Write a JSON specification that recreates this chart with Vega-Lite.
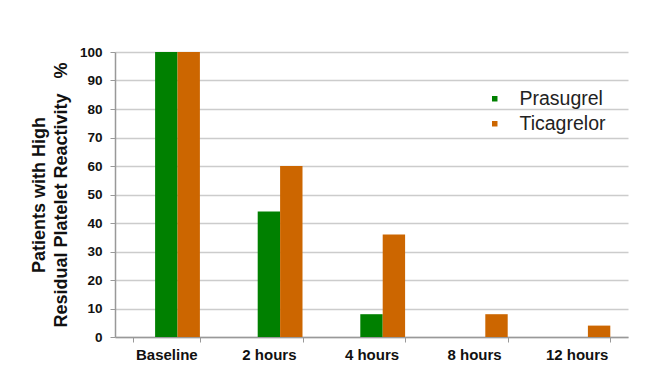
{
  "$schema": "https://vega.github.io/schema/vega-lite/v6.json",
  "autosize": "none",
  "width": 513,
  "height": 285,
  "padding": {"left": 115, "top": 52, "right": 26, "bottom": 40},
  "background": "white",
  "config": {
    "font": "Liberation Sans",
    "view": {"stroke": null},
    "axis": {
      "domainColor": "#999999",
      "tickColor": "#999999",
      "labelColor": "#111111",
      "titleColor": "#111111"
    }
  },
  "data": {
    "values": [
      {"time": "Baseline", "drug": "Prasugrel", "pct": 100},
      {"time": "Baseline", "drug": "Ticagrelor", "pct": 100},
      {"time": "2 hours", "drug": "Prasugrel", "pct": 44},
      {"time": "2 hours", "drug": "Ticagrelor", "pct": 60},
      {"time": "4 hours", "drug": "Prasugrel", "pct": 8},
      {"time": "4 hours", "drug": "Ticagrelor", "pct": 36},
      {"time": "8 hours", "drug": "Prasugrel", "pct": 0},
      {"time": "8 hours", "drug": "Ticagrelor", "pct": 8},
      {"time": "12 hours", "drug": "Prasugrel", "pct": 0},
      {"time": "12 hours", "drug": "Ticagrelor", "pct": 4}
    ]
  },
  "mark": {"type": "bar"},
  "encoding": {
    "x": {
      "field": "time",
      "type": "nominal",
      "sort": ["Baseline", "2 hours", "4 hours", "8 hours", "12 hours"],
      "scale": {"paddingInner": 0.345, "paddingOuter": 0.1725},
      "axis": {
        "title": null,
        "labelAngle": 0,
        "labelFontSize": 15,
        "labelFontWeight": "bold",
        "labelPadding": 5,
        "tickBand": "extent",
        "tickSize": 5,
        "domainWidth": 1.5
      }
    },
    "xOffset": {
      "field": "drug",
      "type": "nominal",
      "scale": {"domain": ["", "Prasugrel", "Ticagrelor"], "paddingInner": 0, "paddingOuter": 0}
    },
    "y": {
      "field": "pct",
      "type": "quantitative",
      "scale": {"domain": [0, 100]},
      "axis": {
        "values": [0, 10, 20, 30, 40, 50, 60, 70, 80, 90, 100],
        "labelFontSize": 13.5,
        "labelFontWeight": "bold",
        "labelPadding": 8,
        "tickSize": 5,
        "gridColor": "#cccccc",
        "gridWidth": 1.5,
        "domainWidth": 1.5,
        "title": ["Patients with High", "Residual Platelet Reactivity\u00a0\u00a0\u00a0%"],
        "titleFontSize": 18,
        "titleFontWeight": "bold",
        "titleLineHeight": 22,
        "titlePadding": 9
      }
    },
    "color": {
      "field": "drug",
      "type": "nominal",
      "scale": {"domain": ["Prasugrel", "Ticagrelor"], "range": ["#008000", "#cc6600"]},
      "legend": {
        "title": null,
        "orient": "none",
        "legendX": 370,
        "legendY": 37,
        "symbolType": "square",
        "symbolSize": 30,
        "symbolStrokeWidth": 0,
        "labelFontSize": 19.5,
        "labelColor": "#222222",
        "labelOffset": 15,
        "rowPadding": 4
      }
    }
  }
}
